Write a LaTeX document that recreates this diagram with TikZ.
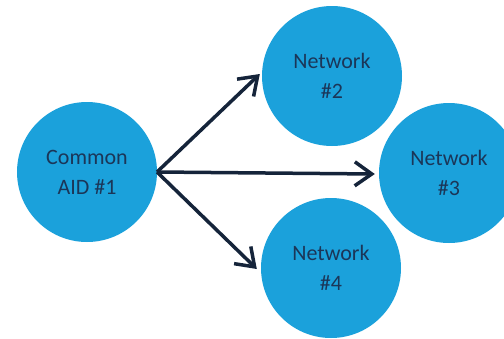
\documentclass[tikz,border=0pt]{standalone}
\usepackage{fontspec}
\setmainfont{Carlito}
\usetikzlibrary{arrows.meta}
\definecolor{bubble}{HTML}{1BA1DB}
\definecolor{navytext}{HTML}{1B3658}
\definecolor{arrowcol}{HTML}{15243A}
\begin{document}
\begin{tikzpicture}[x=1pt,y=-1pt,
  bubblenode/.style={circle,fill=bubble,draw=none,minimum size=140pt,inner sep=0pt,
    text=navytext,align=center,font=\fontsize{22}{30}\selectfont},
  link/.style={draw=arrowcol,line width=3.5pt,-{Straight Barb[length=17pt,width=24pt,line width=3.5pt]}}]
\useasboundingbox (0,0) rectangle (504,338);
\node[bubblenode] (a) at (87,172) {Common\\AID \#1};
\node[bubblenode] (n2) at (332,76) {Network\\\#2};
\node[bubblenode] (n3) at (449,173) {Network\\\#3};
\node[bubblenode] (n4) at (331,268) {Network\\\#4};
\coordinate (s) at (157,172);
\draw[link] (s) -- ([xshift=-2pt,yshift=2pt]n2.west);
\draw[link] (s) -- ([xshift=-4pt,yshift=-1pt]n3.west);
\draw[link] (s) -- ([xshift=-4pt,yshift=-1pt]n4.west);
\end{tikzpicture}
\end{document}
